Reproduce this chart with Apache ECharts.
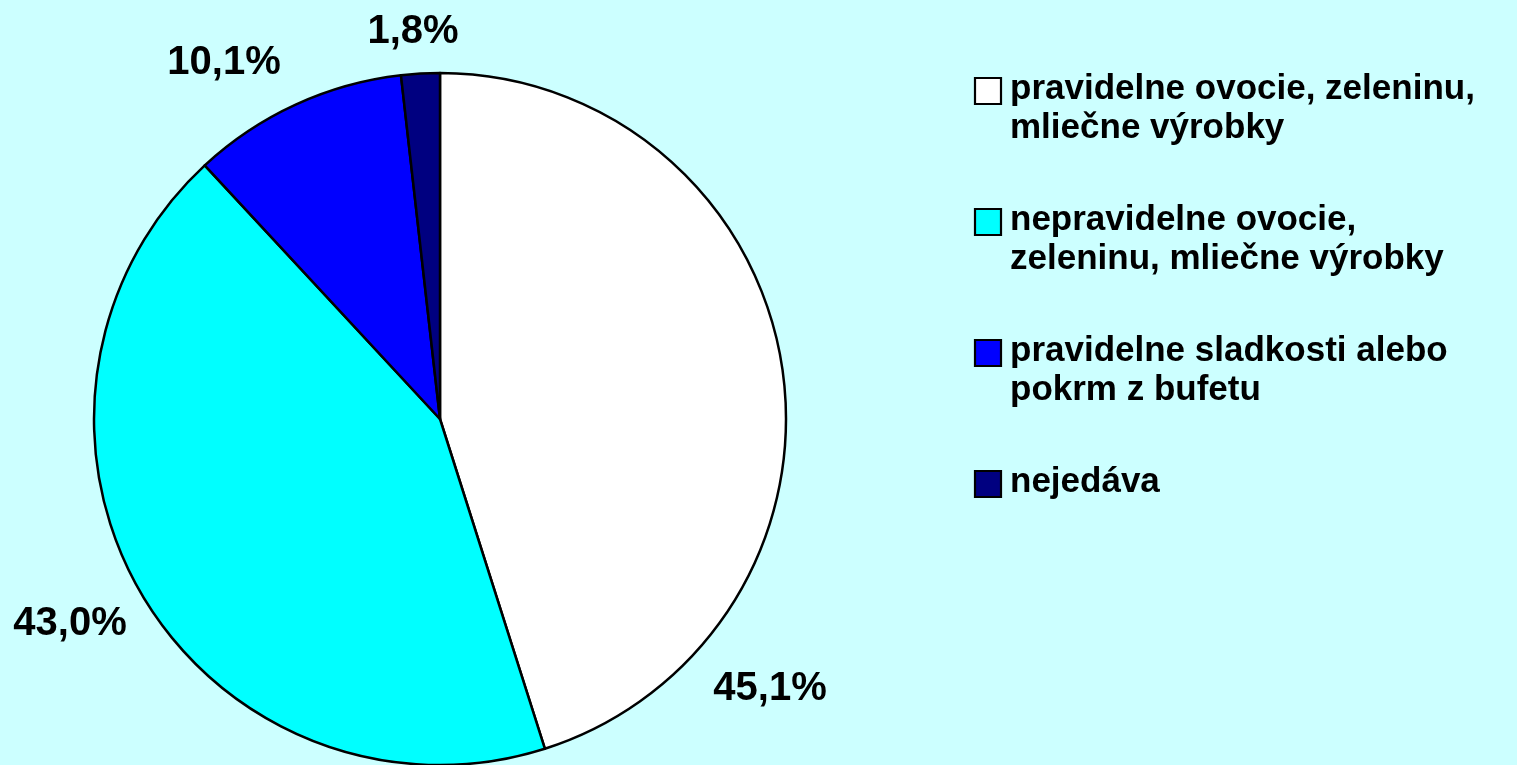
<!DOCTYPE html>
<html>
<head>
<meta charset="utf-8">
<script src="https://cdn.jsdelivr.net/npm/echarts@6/dist/echarts.min.js"></script>
<style>
  html, body { margin: 0; padding: 0; background: #CCFFFF; }
  #chart { width: 1517px; height: 765px; }
</style>
</head>
<body>
<div id="chart"></div>
<script>
// Categories (legend text, line breaks as shown in the legend)
const categories = [
  'pravidelne ovocie, zeleninu,\nmliečne výrobky',
  'nepravidelne ovocie,\nzeleninu, mliečne výrobky',
  'pravidelne sladkosti alebo\npokrm z bufetu',
  'nejedáva'
];
// Share of respondents, percent
const shares = [45.1, 43.0, 10.1, 1.8];
// Slice fill colours
const colors = ['#FFFFFF', '#00FFFF', '#0000FF', '#000080'];

// Where each percentage label sits (page pixels, label centre)
const labelSpots = [[770, 689], [70, 624], [224, 63], [413, 32]];

const FONT = '"Liberation Sans", Arial, sans-serif';

const chart = echarts.init(document.getElementById('chart'), null, { renderer: 'canvas' });

// Legend drawn as graphic elements so the swatch lines up with the first text line
const legendTop = 91, legendGap = 131;
const legendGraphics = [];
categories.forEach((name, i) => {
  const cy = legendTop + i * legendGap;
  legendGraphics.push({
    type: 'rect',
    shape: { x: 975, y: cy - 13, width: 26, height: 26 },
    style: { fill: colors[i], stroke: '#000', lineWidth: 2.2 }
  });
  legendGraphics.push({
    type: 'text',
    x: 1010,
    y: cy - 21,
    style: {
      text: name,
      font: 'bold 35px ' + FONT,
      fill: '#000',
      lineHeight: 39,
      verticalAlign: 'top',
      align: 'left'
    }
  });
});

chart.setOption({
  backgroundColor: '#CCFFFF',
  animation: false,
  graphic: legendGraphics,
  series: [{
    type: 'pie',
    center: [440, 419],
    radius: 346,
    startAngle: 90,
    clockwise: true,
    avoidLabelOverlap: false,
    data: categories.map((name, i) => ({
      name: name,
      value: shares[i],
      itemStyle: { color: colors[i] }
    })),
    itemStyle: { borderColor: '#000', borderWidth: 2.5 },
    label: {
      show: true,
      position: 'outside',
      formatter: p => p.value.toFixed(1).replace('.', ',') + '%',
      fontFamily: FONT,
      fontWeight: 'bold',
      fontSize: 40,
      color: '#000'
    },
    labelLine: { show: false },
    labelLayout: params => ({
      x: labelSpots[params.dataIndex][0],
      y: labelSpots[params.dataIndex][1],
      align: 'center',
      verticalAlign: 'middle'
    }),
    emphasis: { disabled: true }
  }]
});
</script>
</body>
</html>
